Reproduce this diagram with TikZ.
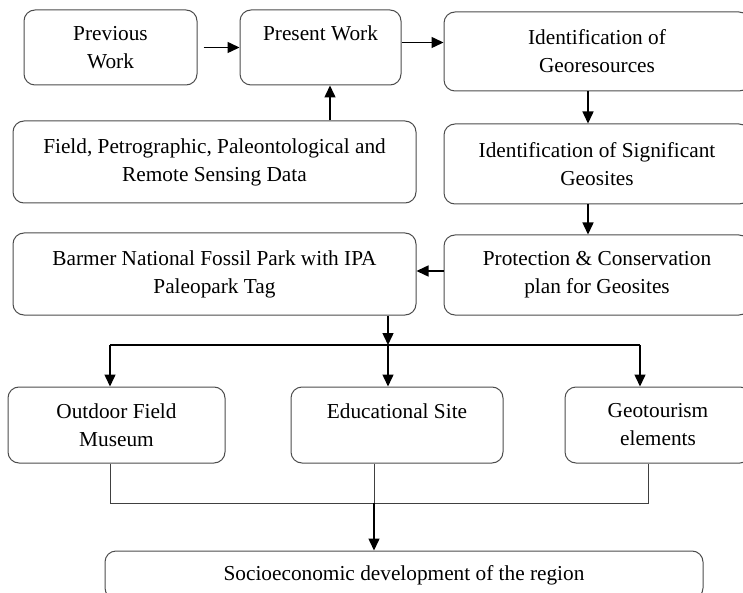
\documentclass[tikz,border=0pt]{standalone}
\usepackage{fontspec}
\setmainfont{Liberation Serif}
\usetikzlibrary{arrows.meta,positioning}
\tikzset{
  box/.style={draw=black!70, line width=1pt, rounded corners=11pt, align=center, inner sep=0pt, font=\fontsize{21.3}{28}\selectfont},
  arr/.style={-{Triangle[length=12pt,width=11pt]}, line width=1.5pt},
  link/.style={draw=black!75, line width=1pt}
}
\begin{document}
\begin{tikzpicture}[x=1pt,y=-1pt]
\path[use as bounding box, clip] (0,0) rectangle (743,593);
\node[box, minimum width=173pt, minimum height=75pt] (previous) at (110.5,47.5) {Previous\\Work};
\node[box, minimum width=161pt, minimum height=75pt] (present) at (320.5,47.5) {Present Work\\\mbox{}};
\node[box, minimum width=306pt, minimum height=79pt] (georesources) at (597,51.5) {Identification of\\Georesources};
\node[box, minimum width=403pt, minimum height=82pt] (fielddata) at (214.5,162) {Field, Petrographic, Paleontological and\\Remote Sensing Data};
\node[box, minimum width=306pt, minimum height=80pt] (geosites) at (597,164) {Identification of Significant\\Geosites};
\node[box, minimum width=403pt, minimum height=82pt] (barmer) at (214.5,274) {Barmer National Fossil Park with IPA\\Paleopark Tag};
\node[box, minimum width=306pt, minimum height=80pt] (protection) at (597,275) {Protection \& Conservation\\plan for Geosites};
\node[box, minimum width=217pt, minimum height=76pt] (museum) at (116.5,425) {Outdoor Field\\Museum};
\node[box, minimum width=212pt, minimum height=76pt] (education) at (397,425) {Educational Site\\\mbox{}};
\node[box, minimum width=186pt, minimum height=76pt] (geotourism) at (658,425) {Geotourism\\elements};
\node[box, minimum width=598pt, minimum height=48pt] (socio) at (404,575) {Socioeconomic development of the region};
\coordinate (split) at (388,345);
\coordinate (splitL) at (110,345);
\coordinate (splitR) at (640,345);
\coordinate (merge) at (374,503);
\coordinate (mergeL) at (110,503);
\coordinate (mergeR) at (648,503);
\draw[arr] ([xshift=6pt]previous.east) -- (previous.east -| present.west);
\draw[arr] ([yshift=5pt]present.east) -- ([yshift=5pt]present.east -| georesources.west);
\draw[arr] ([xshift=115.5pt]fielddata.north) -- ([xshift=115.5pt]fielddata.north |- present.south);
\draw[arr] ([xshift=-9pt]georesources.south) -- ([xshift=-9pt]geosites.north);
\draw[arr] ([xshift=-9pt]geosites.south) -- ([xshift=-9pt]protection.north);
\draw[arr] ([yshift=4pt]protection.west) -- ([yshift=4pt]protection.west -| barmer.east);
\draw[arr] (split |- barmer.south) -- (split);
\draw[line width=1.5pt] (splitL) -- (splitR);
\draw[arr] (splitL) -- (splitL |- museum.north);
\draw[arr] (split) -- (split |- education.north);
\draw[arr] (splitR) -- (splitR |- geotourism.north);
\draw[link] (mergeL |- museum.south) -- (mergeL) -- (mergeR) -- (mergeR |- geotourism.south);
\draw[link] (merge |- education.south) -- (merge);
\draw[arr] (merge) -- (merge |- socio.north);
\end{tikzpicture}
\end{document}
